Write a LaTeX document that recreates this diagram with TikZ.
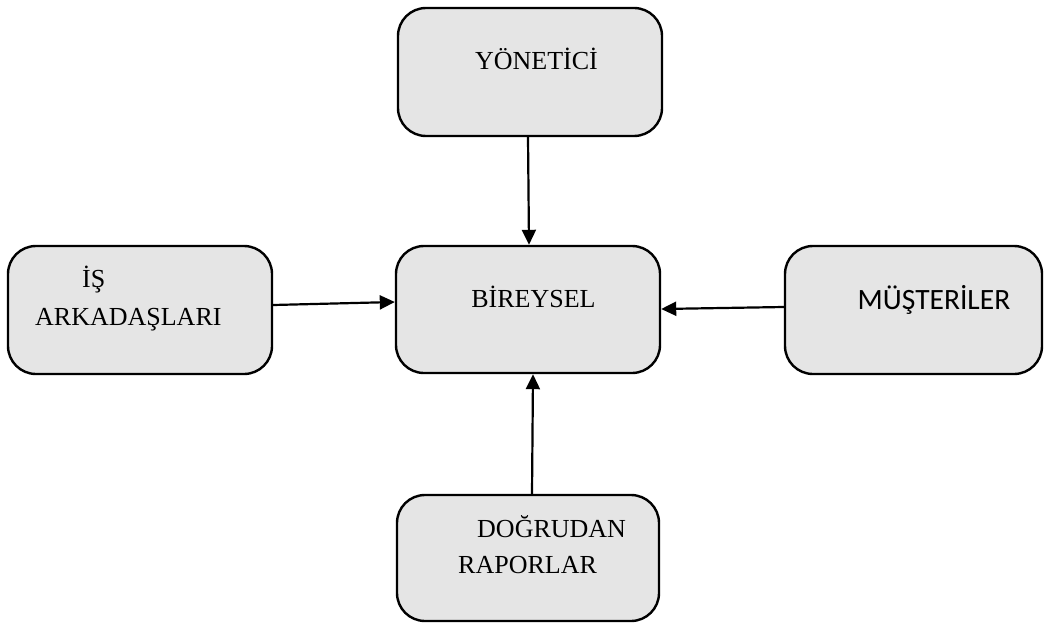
\documentclass[tikz,border=0pt]{standalone}
\usepackage{fontspec}
\setmainfont{Liberation Serif}
\newfontfamily\calibrifont{Carlito}
\usetikzlibrary{arrows.meta}

\begin{document}
\begin{tikzpicture}[
    x=1pt, y=-1pt,
    >={Triangle[length=15pt, width=14pt]},
    box style/.style={draw, line width=2.4pt, rounded corners=28pt, fill=gray!20, inner sep=0pt},
    label style/.style={inner sep=0pt, font=\fontsize{26}{31}\selectfont},
    path style/.style={line width=2.2pt, ->}
]
\useasboundingbox (0,0) rectangle (1046,623);

% Draw the boxes
\node[box style, minimum width=264pt, minimum height=128pt] (yonetici) at (530,72) {};
\node[box style, minimum width=264pt, minimum height=127pt] (bireysel) at (528,309.5) {};
\node[box style, minimum width=264pt, minimum height=128pt] (isark) at (140,310) {};
\node[box style, minimum width=257pt, minimum height=128pt] (musteri) at (913.5,310) {};
\node[box style, minimum width=262pt, minimum height=126pt] (dogrudan) at (528,558) {};

% Add the labels
\node[label style, anchor=base] (yonetici text) at (536.5,70) {YÖNETİCİ};
\node[label style, anchor=base] (bireysel text) at (533.5,307) {BİREYSEL};
\node[label style, anchor=base west] (is text) at (82,287) {İŞ};
\node[label style, anchor=base west] (arkadas text) at (35,325) {ARKADAŞLARI};
\node[label style, anchor=base, font=\calibrifont\fontsize{29.5}{35}\selectfont] (musteri text) at (934,309) {MÜŞTERİLER};
\node[label style, anchor=base west] (dogrudan text) at (477,537) {DOĞRUDAN};
\node[label style, anchor=base west] (rapor text) at (458,573) {RAPORLAR};

% Draw the arrows
\draw[path style] ([xshift=-2pt]yonetici.south) -- ([xshift=1pt]bireysel.north);
\draw[path style] ([yshift=5pt]isark.east) -- ([yshift=7.5pt]bireysel.west);
\draw[path style] ([yshift=3pt]musteri.west) -- ([yshift=0.5pt]bireysel.east);
\draw[path style] ([xshift=4pt]dogrudan.north) -- ([xshift=5pt]bireysel.south);
\end{tikzpicture}
\end{document}
